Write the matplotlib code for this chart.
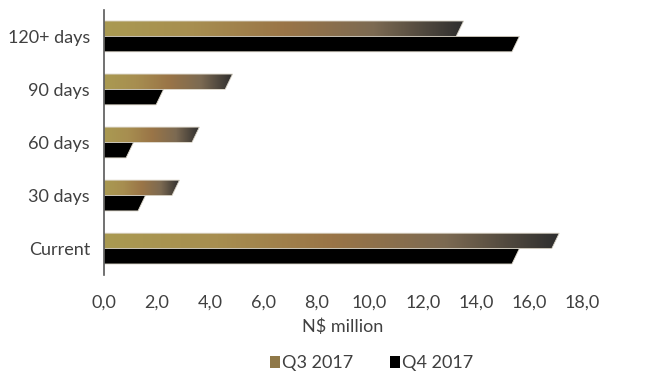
import numpy as np
import matplotlib
matplotlib.use("Agg")
import matplotlib.pyplot as plt
from matplotlib.patches import Polygon, Patch
from matplotlib.colors import LinearSegmentedColormap

categories = ["Current", "30 days", "60 days", "90 days", "120+ days"]
q3_2017 = [17.0, 2.7, 3.45, 4.7, 13.4]
q4_2017 = [15.5, 1.42, 0.97, 2.1, 15.5]
xticks = np.arange(0, 19, 2)

plt.rcParams['font.family'] = ['Lato', 'DejaVu Sans']
txt = '#404040'
fs = 13

fig = plt.figure(figsize=(6.46, 3.8), dpi=100)
ax = fig.add_axes([0.161, 0.276, 0.740, 0.698])

gold = LinearSegmentedColormap.from_list(
    "gold", ["#aa9a52", "#a78e50", "#9a7547", "#7c6a52", "#2e2e2e"])

h = 0.29
slant = 0.28
y = np.arange(len(categories))


def slanted_bar(ypos, val, bottom, face=None, gradient=False):
    y0, y1 = ypos + bottom, ypos + bottom + h
    pts = [(0, y0), (val - slant / 2, y0), (val + slant / 2, y1), (0, y1)]
    poly = Polygon(pts, closed=True, facecolor=face if face else 'none',
                   edgecolor='#d8d2c4', linewidth=0.6, zorder=2)
    ax.add_patch(poly)
    if gradient:
        grad = np.linspace(0, 1, 256).reshape(1, -1)
        im = ax.imshow(grad, cmap=gold, aspect='auto',
                       extent=[0, val + slant / 2, y0, y1], zorder=1.5)
        im.set_clip_path(poly)


for i in range(len(categories)):
    slanted_bar(y[i], q3_2017[i], 0.0, gradient=True)
    slanted_bar(y[i], q4_2017[i], -h, face='black')

ax.set_xlim(0, 18)
ax.set_ylim(-0.5, 4.5)
ax.set_yticks(y)
ax.set_yticklabels(categories, color=txt, fontsize=fs)
ax.set_xticks(xticks)
ax.set_xticklabels([f"{v:.1f}".replace('.', ',') for v in xticks],
                   color=txt, fontsize=fs)
ax.tick_params(axis='y', length=0, pad=10)
ax.tick_params(axis='x', length=0, pad=14)
for s in ['top', 'right', 'bottom']:
    ax.spines[s].set_visible(False)
ax.spines['left'].set_color('#595959')
ax.spines['left'].set_linewidth(1.2)
ax.set_xlabel("N$ million", color=txt, fontsize=fs, labelpad=6)

handles = [Patch(facecolor='#8f7848', label='Q3 2017'),
           Patch(facecolor='black', label='Q4 2017')]
leg = fig.legend(handles=handles, loc='lower center', ncol=2, frameon=False,
                 bbox_to_anchor=(0.575, -0.02), fontsize=fs,
                 handlelength=0.6, handleheight=0.6, handletextpad=0.1,
                 columnspacing=2.0)
for t in leg.get_texts():
    t.set_color(txt)

fig.savefig("out.png", dpi=100)
